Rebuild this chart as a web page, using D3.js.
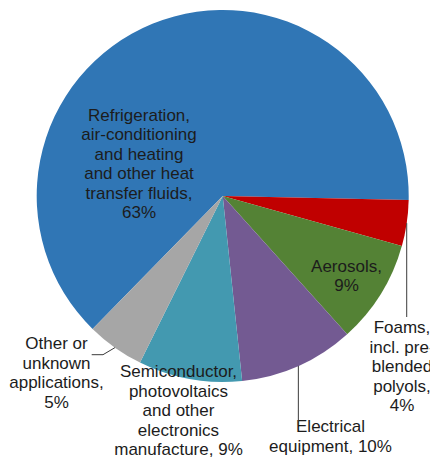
<!DOCTYPE html>
<html>
<head>
<meta charset="utf-8">
<script src="https://cdn.jsdelivr.net/npm/d3@7"></script>
<style>
  html, body { margin: 0; padding: 0; background: #fff; }
  svg { display: block; }
</style>
</head>
<body>
<svg id="chart" width="430" height="459"></svg>
<script>
// ---- data ----
const categories = [
  "Refrigeration, air-conditioning and heating and other heat transfer fluids",
  "Foams, incl. pre-blended polyols",
  "Aerosols",
  "Electrical equipment",
  "Semiconductor, photovoltaics and other electronics manufacture",
  "Other or unknown applications"
];
const values = [63, 4, 9, 10, 9, 5];
const labelLines = [
  ["Refrigeration,", "air-conditioning", "and heating", "and other heat", "transfer fluids,", "63%"],
  ["Foams,", "incl. pre-", "blended", "polyols,", "4%"],
  ["Aerosols,", "9%"],
  ["Electrical", "equipment, 10%"],
  ["Semiconductor,", "photovoltaics", "and other", "electronics", "manufacture, 9%"],
  ["Other or", "unknown", "applications,", "5%"]
];
const colors = ["#3076b5", "#c00000", "#548235", "#735a92", "#4399b0", "#a6a6a6"];

// ---- layout ----
const W = 430, H = 459;
const cx = 222.7, cy = 196, R = 186;
const deg = Math.PI / 180;
const start = -135.6 * deg;

const svg = d3.select("#chart");
const g = svg.append("g").attr("transform", `translate(${cx},${cy})`);

const pie = d3.pie().sort(null).value(d => d).startAngle(start).endAngle(start + 2 * Math.PI);
const arcs = pie(values);
const arc = d3.arc().innerRadius(0).outerRadius(R);

g.selectAll("path.slice")
  .data(arcs)
  .join("path")
  .attr("class", "slice")
  .attr("d", arc)
  .attr("fill", (d, i) => colors[i]);

// label positions (first-line baseline, centre x) in page coords
const labelPos = [
  { x: 139, y: 120.7 },
  { x: 402, y: 333 },
  { x: 346.5, y: 271.7 },
  { x: 330.5, y: 432.3 },
  { x: 178.5, y: 377.3 },
  { x: 56.5, y: 349 }
];
const lineH = 19.5;

const labels = svg.append("g")
  .attr("font-family", "'Liberation Sans', Arial, sans-serif")
  .attr("font-size", 17)
  .attr("fill", "#1c1c1c")
  .attr("text-anchor", "middle");

labelLines.forEach((lines, i) => {
  const t = labels.append("text").attr("x", labelPos[i].x).attr("y", labelPos[i].y);
  lines.forEach((ln, k) => {
    t.append("tspan").attr("x", labelPos[i].x).attr("dy", k === 0 ? 0 : lineH).text(ln);
  });
});

// leader lines from slice mid-angle at outer radius
function edgePoint(d) {
  const a = (d.startAngle + d.endAngle) / 2;
  return [cx + R * Math.sin(a), cy - R * Math.cos(a)];
}
const leaders = svg.append("g").attr("fill", "none").attr("stroke", "#3a3a3a").attr("stroke-width", 1);
const line = d3.line();

const pF = edgePoint(arcs[1]);
leaders.append("path").attr("d", line([pF, [pF[0], 317]]));

const pE = edgePoint(arcs[3]);
leaders.append("path").attr("d", line([pE, [pE[0], 425]]));

const pO = edgePoint(arcs[5]);
leaders.append("path").attr("d", line([pO, [103, 354.7], [91.7, 354.7]]));
</script>
</body>
</html>
